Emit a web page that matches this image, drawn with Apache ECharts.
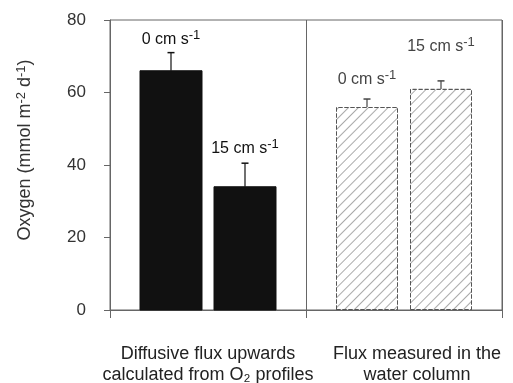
<!DOCTYPE html>
<html>
<head>
<meta charset="utf-8">
<script src="https://cdn.jsdelivr.net/npm/echarts@6/dist/echarts.min.js"></script>
<style>
  html, body { margin: 0; padding: 0; background: #fff; }
  #chart { width: 513px; height: 383px; }
</style>
</head>
<body>
<div id="chart"></div>
<script>
// groups on the x axis
var categories = ['Diffusive flux upwards\ncalculated from O\u2082 profiles', 'Flux measured in the\nwater column'];
// current speed series
var seriesNames = ['0 cm s-1', '15 cm s-1'];
var flux0 = [66, 56];
var flux15 = [34, 61];
// upper end of the error bars
var err0 = [71, 58.2];
var err15 = [40.5, 63.2];
var yTicks = [0, 20, 40, 60, 80];

var font = 'Liberation Sans, Arial, sans-serif';
var barW = 62, barGap = 12;

var chart = echarts.init(document.getElementById('chart'));

var hatch = {
  color: '#fff',
  borderColor: '#555',
  borderWidth: 1,
  borderType: 'dashed',
  decal: {
    symbol: 'rect',
    color: '#aaa',
    dashArrayX: [1, 0],
    dashArrayY: [1, 6],
    rotation: -Math.PI / 4
  }
};
var solid = { color: '#111', borderColor: '#111' };

function barData(vals, dists) {
  return vals.map(function (v, i) {
    return {
      value: v,
      itemStyle: i === 0 ? solid : hatch,
      label: { distance: dists[i], color: i === 0 ? '#111' : '#444' }
    };
  });
}

function errSeries(vals, tops, side) {
  return {
    type: 'custom',
    silent: true,
    z: 5,
    data: vals.map(function (v, i) { return [i, v, tops[i]]; }),
    renderItem: function (params, api) {
      var off = side * (barW + barGap) / 2;
      var p0 = api.coord([api.value(0), api.value(1)]);
      var p1 = api.coord([api.value(0), api.value(2)]);
      var x = p0[0] + off;
      var col = api.value(0) === 0 ? '#111' : '#444';
      return {
        type: 'group',
        children: [
          { type: 'line', shape: { x1: x, y1: p0[1], x2: x, y2: p1[1] }, style: { stroke: col, lineWidth: 1.2 } },
          { type: 'line', shape: { x1: x - 3.5, y1: p1[1], x2: x + 3.5, y2: p1[1] }, style: { stroke: col, lineWidth: 1.5 } }
        ]
      };
    }
  };
}

var labelRich = {
  sup: { fontSize: 13, verticalAlign: 'top', padding: [0, 0, 8, 0], fontFamily: font }
};

chart.setOption({
  animation: false,
  textStyle: { fontFamily: font },
  grid: {
    left: 110, right: 11, top: 20, bottom: 73,
    outerBoundsMode: 'none',
    show: true, borderColor: '#666', borderWidth: 1
  },
  xAxis: {
    type: 'category',
    data: categories,
    axisLine: { lineStyle: { color: '#666' } },
    axisTick: { show: true, interval: 0, length: 8, lineStyle: { color: '#666' } },
    splitLine: { show: true, interval: 0, lineStyle: { color: '#666', width: 1 } },
    axisLabel: {
      interval: 0, fontSize: 18, color: '#222', margin: 34, lineHeight: 21, fontFamily: font,
      formatter: function (v, i) { return i === 1 ? '{r|' + v.split('\n').join('}\n{r|') + '}' : v; },
      rich: { r: { fontSize: 18, lineHeight: 21, padding: [0, 0, 0, 26], fontFamily: font, color: '#222' } }
    }
  },
  yAxis: {
    type: 'value',
    min: 0, max: 80, interval: 20,
    name: 'Oxygen (mmol m{s|-2} d{s|-1})',
    nameLocation: 'middle',
    nameGap: 74,
    nameTextStyle: {
      fontSize: 18, color: '#333', fontFamily: font, padding: [0, 0, 0, 30],
      rich: { s: { fontSize: 13, verticalAlign: 'top', padding: [0, 0, 8, 0], color: '#333', fontFamily: font } }
    },
    axisLine: { show: true, lineStyle: { color: '#666' } },
    axisTick: { show: true, length: 6, lineStyle: { color: '#666' } },
    splitLine: { show: false },
    axisLabel: {
      fontSize: 17, color: '#333', margin: 24, fontFamily: font,
      formatter: function (v) { return yTicks.indexOf(v) >= 0 ? String(v) : ''; }
    }
  },
  series: [
    {
      name: seriesNames[0], type: 'bar', barWidth: barW, barGap: (barGap / barW * 100) + '%',
      data: barData(flux0, [20, 17]),
      label: { show: true, position: 'top', fontSize: 16, fontWeight: 'normal', formatter: '0 cm s{sup|-1}', rich: labelRich }
    },
    {
      name: seriesNames[1], type: 'bar', barWidth: barW,
      data: barData(flux15, [27, 32]),
      label: { show: true, position: 'top', fontSize: 16, fontWeight: 'normal', formatter: '15 cm s{sup|-1}', rich: labelRich }
    },
    errSeries(flux0, err0, -1),
    errSeries(flux15, err15, 1)
  ]
});
</script>
</body>
</html>
